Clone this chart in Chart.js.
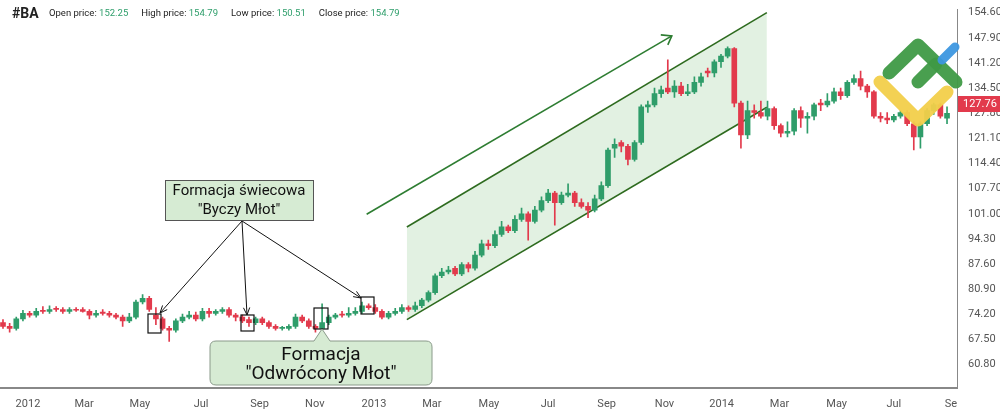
<!DOCTYPE html>
<html><head><meta charset="utf-8">
<script src="https://cdn.jsdelivr.net/npm/chart.js@4.4.0/dist/chart.umd.min.js"></script>
<style>html,body{margin:0;padding:0;background:#fff;overflow:hidden}#w{position:relative;width:1000px;height:411px}</style>
</head><body><div id="w"><canvas id="c" width="1000" height="411"></canvas></div>
<script>
const opens=[72,71,70.5,73,74.5,74,75.2,75,75.8,75.5,75,75.5,75.5,75,74,74.8,74.5,74,73.5,72.5,73.5,77.5,78.5,74,73,70.5,70,72.5,73.5,74,73,75,74.5,75,75.5,74,73.5,72.8,72,73,72,71,70.5,70.5,71,73.5,72.5,71,70.5,72,73.5,74.3,74,74.5,75,76.5,76,75,73.5,74.5,75,76,75.5,
76.5,78,80,84.5,85.5,86.5,85,87.5,86.5,90,93,92.5,95.5,97.5,96.5,99.5,101,99,102,104.5,106.5,104,106,106.5,104,103,102,105,108.5,118.5,120,119,115.5,120,129.5,130,133,134.5,133.5,135,133,133.5,136,139,138.5,141.5,143,145,130.5,122,128.5,128,127,129,124.5,122.5,123,128.5,126.5,127,130.5,130,131,133.5,132.5,136,137,135,133.5,127,126.5,126,127,128,125,121.5,125,128.5,130,126.5];
const closes=[71,70.5,73,74.5,74,75,75,75.5,75.5,75,75.5,75.3,75,74,74.5,74.5,74,73.5,72.5,73.5,77.5,78.5,75.5,73,70.5,70,72.5,73.5,74,73,75,74.5,75,75.5,74,73.5,72.5,72,73,72,71,70.5,70.5,71,73.5,72.5,71,70.5,72,73.5,74,74,74.5,75,76.5,76,75,73.5,74.5,75,76,75.5,76.5,
78,80,84.5,85.5,86,85,87.5,86.5,90,93,92.5,95.5,97.5,96.5,99.5,101,99,102,104.5,106.5,104,106,106.5,104,103,102,105,108.5,118,119.5,119,115.5,120,129.5,130,133,134,133.5,135,133,133.5,136,137.5,138.5,141.5,143,145,130.5,122,128.5,128,127,129,124.5,122.5,123,128.5,126.5,127,130,130,131,133.5,132.5,136,137,135,133.5,127,126.5,126,127,128,125,121.5,125,128.5,130,127,127.76];
const highs=[72.8,71.8,73.5,75.3,75,75.8,76.3,76.5,76.3,76,76,76,76,75.5,75.3,75.5,75,74.5,74,74.5,78,79.5,79,76,73.5,71,73,74.3,75,74.8,75.8,75.8,75.5,76,76,74.5,74,73.5,73.5,73.5,72.5,71.5,71,71.5,74.3,74,73,71.5,77,74,74.5,75,76,76,77.5,77,76.8,75.5,75,75.8,76.8,76.5,77.5,
78.5,80.5,85,86.5,87,87,88,88,91,94,94,96.5,99,98,100.5,102.5,101.5,103,105.5,107.5,107,106.8,109,107,105,104,106,109.5,118.5,121,120.5,119.5,120.5,130,131,134.5,135,142,136.5,136,135.5,137.5,138.5,139.8,142,143.5,145.5,145.3,131,131,130,131,131,129.5,125,125.5,129,129.5,128,130.5,131.5,133,134.5,134.5,136.5,138,139,135.5,133.8,128,128,127.5,128.5,128.5,125.5,125.5,129,130.5,130.5,129.5];
const lows=[70.5,69.5,70,72.5,73.5,73.5,74.5,74.5,75,74.5,74.5,75,74.8,73,73.5,74,73.5,73,71,72,73,77,75,71.5,70,67,69.5,72,73,72.5,72.5,73.5,74,74.5,73.5,72.5,72,71,71.5,71.5,70.5,70,70,70,70.5,72,70.5,69.5,70,71.5,73,73.5,73.5,74,74.5,75.5,74.5,73,73,74,74.5,75,75,
76,77.5,79.5,84,85,84.5,84.5,85.5,86,89.5,91.5,92,95,96,96,99,94,98.5,101.5,104,98,103.5,105.5,103,102.5,100,101.5,104.5,108,116,117.5,114,115,119.5,128,129.5,132,133,132,132.5,132.5,133,135,137.5,137.5,140,142.5,129.5,118.5,121,126.5,126.5,126,123.5,121.5,121.5,122,124,122.5,126,128.5,129.5,130.5,131.5,132,135.5,134,132,126.5,125.5,125,125.5,126.5,124.5,118,118.5,124.5,127.5,126.5,125];
const monthTickPos=[3.76,12.2,20.6,29.8,38.6,46.9,55.8,64.5,73.1,82,90.8,99.5,108.1,116.8,125.4,134,142.6];
const monthTickLabels=["2012","Mar","May","Jul","Sep","Nov","2013","Mar","May","Jul","Sep","Nov","2014","Mar","May","Jul","Se"];
const priceTicks=[60.8,67.5,74.2,80.9,87.6,94.3,101,107.7,114.4,121.1,127.8,134.5,141.2,147.9,154.6];
const channelLower=[{x:60.75,y:72.8},{x:114.9,y:129.4}];
const channelUpper=[{x:60.75,y:97.5},{x:114.9,y:154.6}];
const trendArrow=[{x:54.7,y:100.9},{x:100.6,y:148.4}];

const G='#2f9d6a',R='#e23a4c';
const col=opens.map((o,i)=>closes[i]>=o?G:R);
const bodies=opens.map((o,i)=>({x:i,y:[o,closes[i]]}));
const wicks=opens.map((o,i)=>({x:i,y:[lows[i],highs[i]]}));

const overlay={id:'ov',afterDraw(ch){
 const c=ch.ctx,xs=ch.scales.x,ys=ch.scales.y;
 c.save();
 const tx=xs.getPixelForValue(trendArrow[1].x),ty=ys.getPixelForValue(trendArrow[1].y);
 c.strokeStyle='#2e7d32';c.lineWidth=1.6;c.beginPath();c.moveTo(tx-11,ty-1);c.lineTo(tx,ty);c.lineTo(tx-4,ty+9);c.stroke();
 c.strokeStyle='#111';c.lineWidth=1.2;
 [[148,314,13,19],[241,315,13,16],[314,308,14,21],[361,297,13,17]].forEach(b=>c.strokeRect(b[0],b[1],b[2],b[3]));
 function arr(x1,y1,x2,y2){c.beginPath();c.moveTo(x1,y1);c.lineTo(x2,y2);c.stroke();const a=Math.atan2(y2-y1,x2-x1);c.beginPath();c.moveTo(x2-8*Math.cos(a-0.4),y2-8*Math.sin(a-0.4));c.lineTo(x2,y2);c.lineTo(x2-8*Math.cos(a+0.4),y2-8*Math.sin(a+0.4));c.stroke();}
 c.lineWidth=1;arr(242,221,160,313);arr(242,221,247,315);arr(242,221,361,298);
 c.fillStyle='#d6ebd3';c.strokeStyle='#555';c.lineWidth=1;
 c.fillRect(165,180,148,40);c.strokeRect(165.5,180.5,148,40);
 c.fillStyle='#111';c.font='15px Roboto';c.textAlign='center';c.textBaseline='middle';
 c.fillText('Formacja świecowa',239,191);c.fillText('"Byczy Młot"',239,210);
 c.fillStyle='#d6ebd3';c.strokeStyle='#8a9a8a';
 c.beginPath();const X=210,Y=341,W=222,H=44,r=6;
 c.moveTo(X+r,Y);c.lineTo(314,Y);c.lineTo(322,329);c.lineTo(330,Y);c.lineTo(X+W-r,Y);c.quadraticCurveTo(X+W,Y,X+W,Y+r);c.lineTo(X+W,Y+H-r);c.quadraticCurveTo(X+W,Y+H,X+W-r,Y+H);c.lineTo(X+r,Y+H);c.quadraticCurveTo(X,Y+H,X,Y+H-r);c.lineTo(X,Y+r);c.quadraticCurveTo(X,Y,X+r,Y);c.closePath();c.fill();c.stroke();
 c.fillStyle='#111';c.font='19px Roboto';c.fillText('Formacja',321,355);c.fillText('"Odwrócony Młot"',321,374);
 c.lineCap='round';c.lineJoin='round';
 c.globalAlpha=0.95;c.strokeStyle='#f2cf4a';c.lineWidth=13;c.beginPath();c.moveTo(880,82);c.lineTo(918,120);c.lineTo(947,92);c.stroke();
 c.strokeStyle='#3f9a46';c.lineWidth=13;c.beginPath();c.moveTo(889,73);c.lineTo(918,45);c.lineTo(956,82);c.stroke();
 c.beginPath();c.moveTo(918,82);c.lineTo(936,64);c.stroke();
 c.strokeStyle='#3d97e0';c.lineWidth=9;c.beginPath();c.moveTo(942,60);c.lineTo(955,47);c.stroke();
 c.globalAlpha=1;
 c.fillStyle='#e23a4c';c.fillRect(958,96,42,16);c.fillStyle='#fff';c.font='11px Roboto';c.textAlign='left';c.fillText('127.76',963,104.5);
 c.textBaseline='middle';c.fillStyle='#222';c.font='bold 14px Roboto';c.fillText('#BA',12,14);
 c.font='9.5px Roboto';let x=49;
 [['Open price: ','152.25'],['High price: ','154.79'],['Low price: ','150.51'],['Close price: ','154.79']].forEach(p=>{c.fillStyle='#222';c.fillText(p[0],x,14);x+=c.measureText(p[0]).width;c.fillStyle='#2e9e6b';c.fillText(p[1],x,14);x+=c.measureText(p[1]).width+13;});
 c.restore();
}};

new Chart(document.getElementById('c'),{
 data:{datasets:[
  {type:'line',data:channelLower,borderColor:'#2e6b1f',borderWidth:1.6,pointRadius:0,order:10,fill:false},
  {type:'line',data:channelUpper,borderColor:'#2e6b1f',borderWidth:1.6,pointRadius:0,order:10,fill:{target:0},backgroundColor:'rgba(190,225,190,0.45)'},
  {type:'line',data:trendArrow,borderColor:'#2e7d32',borderWidth:1.6,pointRadius:0,order:10,fill:false},
  {type:'bar',data:wicks,backgroundColor:col,barThickness:1,grouped:false,order:2},
  {type:'bar',data:bodies,backgroundColor:col,barThickness:5,minBarLength:1,grouped:false,order:1}
 ]},
 options:{responsive:false,animation:false,devicePixelRatio:1,
  layout:{padding:0},
  plugins:{legend:{display:false},tooltip:{enabled:false}},
  scales:{
   x:{type:'linear',min:-0.45,max:143.5,offset:false,grid:{display:false},border:{color:'#888',width:2},
    afterBuildTicks:a=>{a.ticks=monthTickPos.map(v=>({value:v}));},
    afterFit:a=>{a.height=23;},
    ticks:{autoSkip:false,maxRotation:0,color:'#555',font:{size:11,family:'Roboto'},padding:2,callback:(v,i)=>monthTickLabels[i]}},
   y:{position:'right',min:54.6,max:155.4,grid:{display:false,drawTicks:true},border:{color:'#888',width:1},
    afterBuildTicks:a=>{a.ticks=priceTicks.map(v=>({value:v}));},
    afterFit:a=>{a.width=43;},
    ticks:{color:'#555',font:{size:11,family:'Roboto'},padding:3,callback:v=>v.toFixed(2)}}
  }},
 plugins:[overlay]
});
</script></body></html>
